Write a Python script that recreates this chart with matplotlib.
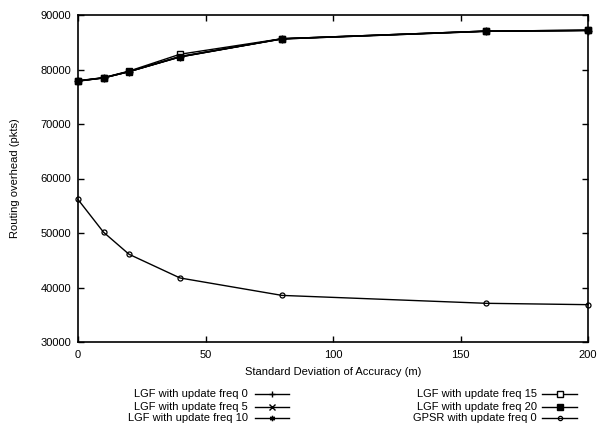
import matplotlib
matplotlib.use("Agg")
import matplotlib.pyplot as plt
from matplotlib.lines import Line2D

plt.rcParams['font.family'] = ['Liberation Sans', 'DejaVu Sans']
plt.rcParams['font.size'] = 8

# standard deviation of accuracy (m)
sd = [0, 10, 20, 40, 80, 160, 200]

lgf0 = [77900, 78450, 79600, 82300, 85600, 87000, 87150]
lgf5 = [77900, 78500, 79650, 82350, 85650, 87050, 87200]
lgf10 = [77850, 78450, 79600, 82400, 85600, 87000, 87150]
lgf15 = [77950, 78500, 79700, 82800, 85650, 87050, 87200]
lgf20 = [77900, 78450, 79600, 82300, 85650, 87050, 87200]
gpsr0 = [56150, 50150, 46100, 41750, 38550, 37100, 36850]

labels = ["LGF with update freq 0", "LGF with update freq 5",
          "LGF with update freq 10", "LGF with update freq 15",
          "LGF with update freq 20", "GPSR with update freq 0"]

W, H = 599, 426
fig = plt.figure(figsize=(W / 100, H / 100), dpi=100)
ax = fig.add_axes([78 / W, 1 - 342 / H, 510 / W, 327 / H])

styles = [
    dict(marker='+', ms=5.5, mfc='black', mew=1.0),
    dict(marker='x', ms=4.5, mfc='black', mew=1.0),
    dict(marker=(6, 2, 0), ms=4.5, mfc='black', mew=1.0),
    dict(marker='s', ms=4.3, mfc='white', mew=1.0),
    dict(marker='s', ms=4.3, mfc='black', mew=1.0),
    dict(marker='o', ms=3.6, mfc='none', mew=0.9),
]
series = [lgf0, lgf5, lgf10, lgf15, lgf20, gpsr0]

for ys, st in zip(series, styles):
    ax.plot(sd, ys, color='black', lw=1.0, mec='black', clip_on=False, **st)

ax.set_xlim(0, 200)
ax.set_ylim(30000, 90000)
ax.set_xticks([0, 50, 100, 150, 200])
ax.set_yticks(range(30000, 90001, 10000))
ax.tick_params(direction='in', length=4, width=1, top=True, right=True)
ax.tick_params(axis='x', pad=6)
ax.tick_params(axis='y', pad=5)
for s in ax.spines.values():
    s.set_linewidth(1.2)

ax.set_xlabel("Standard Deviation of Accuracy (m)", labelpad=5)
ax.set_ylabel("Routing overhead (pkts)")
ax.yaxis.set_label_coords(-58 / 510, 0.5)

# gnuplot-style key below the plot
rows = [394, 406.5, 418]
cols = [(248, 255, 289), (537, 542, 577)]
for i, (lab, st) in enumerate(zip(labels, styles)):
    tx, x1, x2 = cols[i // 3]
    y = 1 - rows[i % 3] / H
    fig.text(tx / W, y, lab, ha='right', va='center')
    fig.add_artist(Line2D([x1 / W, x2 / W], [y, y], color='black', lw=1.0,
                          transform=fig.transFigure))
    kst = dict(st)
    kst['ms'] = st['ms'] * 0.85
    fig.add_artist(Line2D([(x1 + x2) / 2 / W], [y], color='black', lw=0,
                          mec='black', transform=fig.transFigure, **kst))

fig.savefig("out.png", dpi=100)
